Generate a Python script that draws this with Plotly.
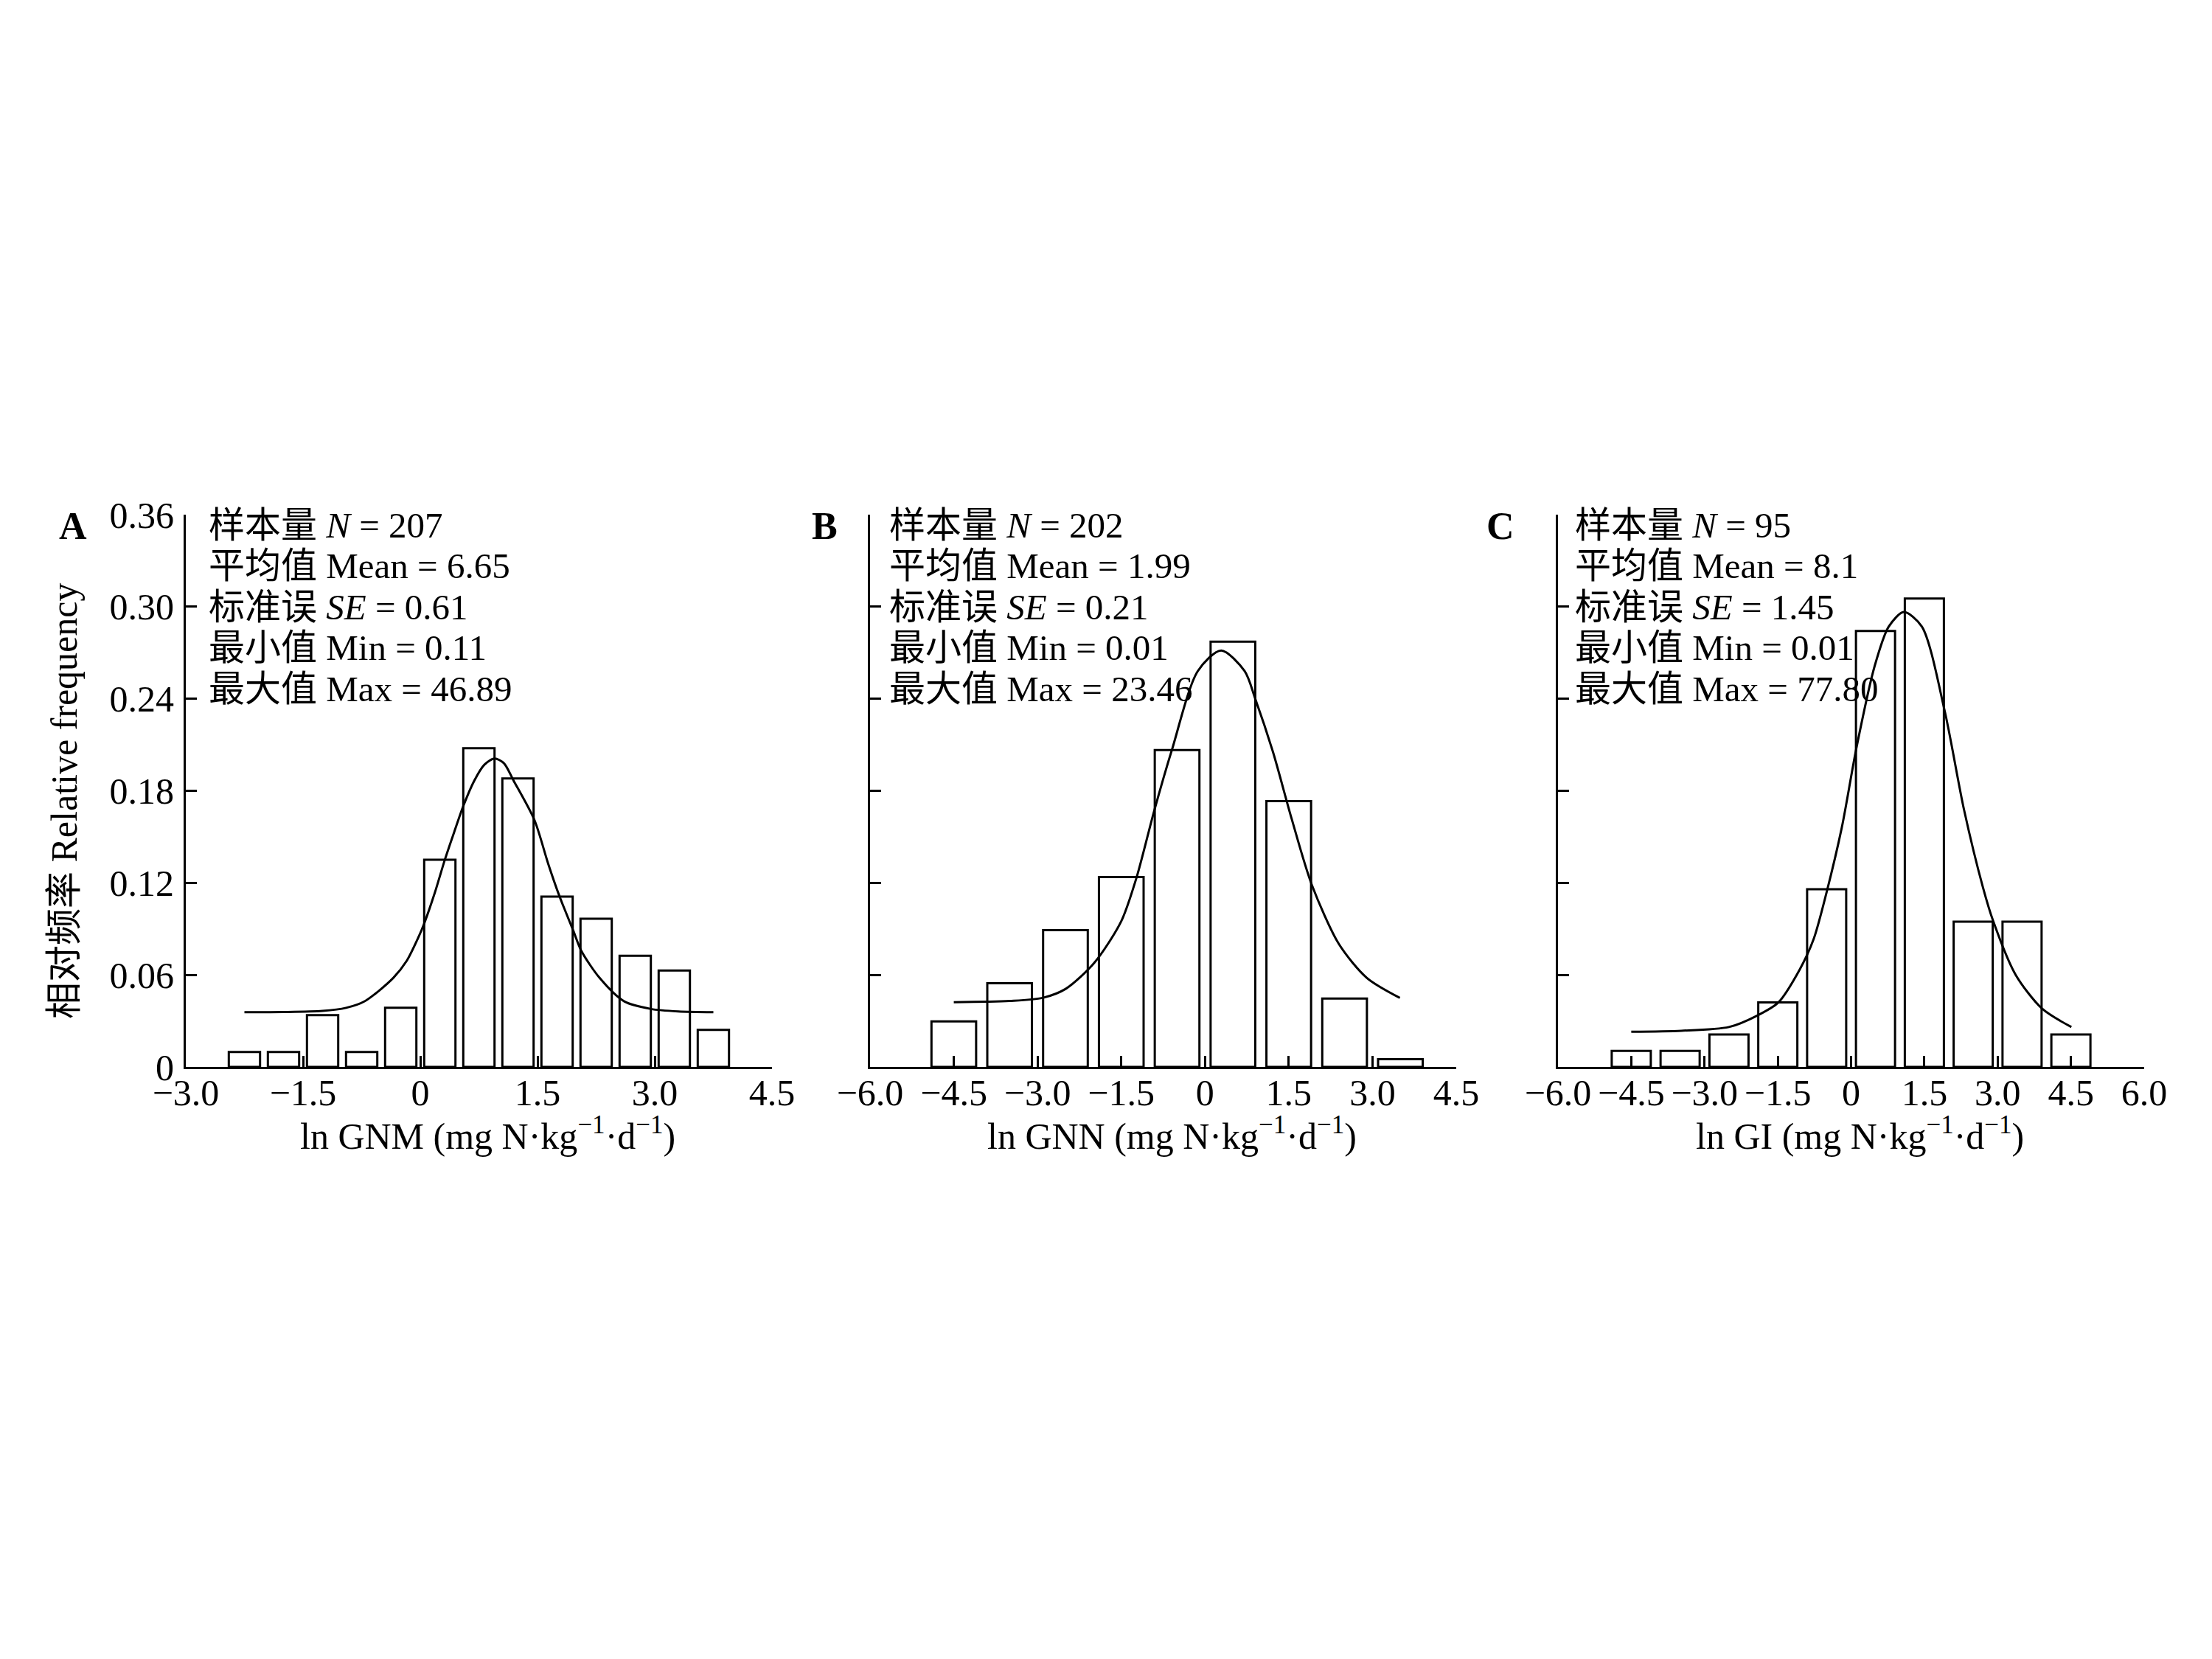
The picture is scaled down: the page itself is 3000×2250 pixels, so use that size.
import plotly.graph_objects as go

W, H = 3000, 2250

# ---------------- data ----------------
# Panel A: ln GNM
a_centers = [-2.25, -1.75, -1.25, -0.75, -0.25, 0.25, 0.75, 1.25, 1.75, 2.25, 2.75, 3.25, 3.75]
a_freq = [0.0097, 0.0097, 0.0338, 0.0097, 0.0386, 0.135, 0.2077, 0.188, 0.111, 0.0966, 0.0725, 0.0628, 0.0242]
a_curve_x = [-2.25, -1.75, -1.25, -0.95, -0.708, -0.346, -0.173, -0.031, 0.054, 0.189, 0.314, 0.44, 0.55, 0.69,
             0.82, 0.95, 1.07, 1.195, 1.46, 1.635, 1.777, 1.96, 2.06, 2.295, 2.61, 2.95, 3.3, 3.75]
a_curve_y = [0.0357, 0.0358, 0.0365, 0.0385, 0.0429, 0.058, 0.0692, 0.0837, 0.094, 0.114, 0.135, 0.154, 0.170, 0.1865,
             0.197, 0.201, 0.198, 0.1865, 0.161, 0.1327, 0.1118, 0.0885, 0.0757, 0.058, 0.0427, 0.0378, 0.0362, 0.0357]

# Panel B: ln GNN
b_centers = [-4.5, -3.5, -2.5, -1.5, -0.5, 0.5, 1.5, 2.5, 3.5]
b_freq = [0.0297, 0.0545, 0.0891, 0.1238, 0.2065, 0.2772, 0.1733, 0.0446, 0.0050]
b_curve_x = [-4.5, -3.5, -2.91, -2.49, -1.98, -1.5, -1.23, -0.91, -0.59, -0.13, 0.29, 0.71, 0.90, 1.22, 1.55, 1.91, 2.40, 2.90, 3.49]
b_curve_y = [0.0422, 0.043, 0.045, 0.051, 0.068, 0.095, 0.123, 0.167, 0.207, 0.258, 0.2715, 0.258, 0.240, 0.205, 0.162, 0.119, 0.080, 0.058, 0.045]

# Panel C: ln GI
c_centers = [-4.5, -3.5, -2.5, -1.5, -0.5, 0.5, 1.5, 2.5, 3.5, 4.5]
c_freq = [0.0105, 0.0105, 0.0211, 0.0421, 0.1158, 0.2842, 0.3053, 0.0947, 0.0947, 0.0211]
c_curve_x = [-4.50, -3.47, -2.50, -1.92, -1.49, -1.06, -0.77, -0.50, -0.19, 0.11, 0.48, 0.77, 1.08, 1.45, 1.91, 2.31, 2.70, 2.91, 3.37, 3.91, 4.51]
c_curve_y = [0.023, 0.0236, 0.026, 0.0335, 0.042, 0.063, 0.083, 0.114, 0.156, 0.208, 0.261, 0.287, 0.2965, 0.287, 0.233, 0.168, 0.117, 0.095, 0.060, 0.038, 0.026]

# tick labels
a_xticks = [-3.0, -1.5, 0, 1.5, 3.0, 4.5]
a_xticktext = ["\u22123.0", "\u22121.5", "0", "1.5", "3.0", "4.5"]
b_xticks = [-6.0, -4.5, -3.0, -1.5, 0, 1.5, 3.0, 4.5]
b_xticktext = ["\u22126.0", "\u22124.5", "\u22123.0", "\u22121.5", "0", "1.5", "3.0", "4.5"]
c_xticks = [-6.0, -4.5, -3.0, -1.5, 0, 1.5, 3.0, 4.5, 6.0]
c_xticktext = ["\u22126.0", "\u22124.5", "\u22123.0", "\u22121.5", "0", "1.5", "3.0", "4.5", "6.0"]
yticks = [0, 0.06, 0.12, 0.18, 0.24, 0.30, 0.36]
yticktext = ["0", "0.06", "0.12", "0.18", "0.24", "0.30", "0.36"]

panel_letters = ["A", "B", "C"]
x_titles = [
    "ln GNM (mg N·kg<sup>\u22121</sup>·d<sup>\u22121</sup>)",
    "ln GNN (mg N·kg<sup>\u22121</sup>·d<sup>\u22121</sup>)",
    "ln GI (mg N·kg<sup>\u22121</sup>·d<sup>\u22121</sup>)",
]
stats = [
    ["样本量 <i>N</i> = 207", "平均值 Mean = 6.65", "标准误 <i>SE</i> = 0.61", "最小值 Min = 0.11", "最大值 Max = 46.89"],
    ["样本量 <i>N</i> = 202", "平均值 Mean = 1.99", "标准误 <i>SE</i> = 0.21", "最小值 Min = 0.01", "最大值 Max = 23.46"],
    ["样本量 <i>N</i> = 95", "平均值 Mean = 8.1", "标准误 <i>SE</i> = 1.45", "最小值 Min = 0.01", "最大值 Max = 77.80"],
]
y_title = "相对频率 Relative frequency"

# ---------------- layout geometry (pixels of the page) ----------------
FONT = "Liberation Serif, Times New Roman, Noto Sans CJK SC, serif"
OFF = 8  # page body margin
ax_left = [252, 1180, 2113]
ax_w = 795
ax_top, ax_bot = 698, 1447
bar_widths = [0.4, 0.8, 0.8]
xranges = [[-3.0, 4.5], [-6.0, 4.5], [-6.0, 6.0]]
letter_x = [99, 1118, 2035]
stats_dx = [29, 24, 21]

def px(x):
    return (x - OFF) / W

def py(y):
    return 1 - (y - OFF) / H

fig = go.Figure()
data_sets = [
    (a_centers, a_freq, a_curve_x, a_curve_y),
    (b_centers, b_freq, b_curve_x, b_curve_y),
    (c_centers, c_freq, c_curve_x, c_curve_y),
]
xt = [(a_xticks, a_xticktext), (b_xticks, b_xticktext), (c_xticks, c_xticktext)]

annotations = []
for i, (cx, fq, kx, ky) in enumerate(data_sets):
    xa = "x" if i == 0 else f"x{i+1}"
    ya = "y" if i == 0 else f"y{i+1}"
    fig.add_trace(go.Bar(
        x=cx, y=fq, width=bar_widths[i], xaxis=xa, yaxis=ya,
        marker=dict(color="white", line=dict(color="black", width=3)),
        showlegend=False,
    ))
    fig.add_trace(go.Scatter(
        x=kx, y=ky, mode="lines", xaxis=xa, yaxis=ya,
        line=dict(color="black", width=3, shape="spline", smoothing=0.8),
        showlegend=False,
    ))
    axis_common = dict(
        showgrid=False, zeroline=False, showline=True, linecolor="black", linewidth=3,
        ticks="inside", ticklen=15, tickwidth=3, tickcolor="black", automargin=False,
        tickfont=dict(family=FONT, size=50, color="black"),
    )
    xkey = "xaxis" if i == 0 else f"xaxis{i+1}"
    ykey = "yaxis" if i == 0 else f"yaxis{i+1}"
    fig.update_layout(**{
        xkey: dict(
            domain=[px(ax_left[i]), px(ax_left[i] + ax_w)],
            range=xranges[i], anchor=ya,
            tickvals=xt[i][0], ticktext=xt[i][1], ticklabelstandoff=-11,
            **axis_common,
        ),
        ykey: dict(
            domain=[py(ax_bot), py(ax_top)],
            range=[0, 0.36], anchor=xa,
            tickvals=yticks, ticktext=yticktext, showticklabels=(i == 0), ticklabelstandoff=3,
            **axis_common,
        ),
    })
    annotations.append(dict(
        x=px(letter_x[i]), y=py(713), xref="paper", yref="paper",
        text="<b>%s</b>" % panel_letters[i], showarrow=False,
        font=dict(family=FONT, size=52, color="black"), xanchor="center", yanchor="middle",
    ))
    for j, line in enumerate(stats[i]):
        annotations.append(dict(
            x=px(ax_left[i] + stats_dx[i]), y=py(712 + 55.5 * j), xref="paper", yref="paper",
            text=line, showarrow=False, xanchor="left", yanchor="middle",
            font=dict(family=FONT, size=49, color="black"),
        ))
    annotations.append(dict(
        x=px(ax_left[i] + ax_w / 2 + 12), y=py(1537), xref="paper", yref="paper",
        text=x_titles[i], showarrow=False, xanchor="center", yanchor="middle",
        font=dict(family=FONT, size=50, color="black"),
    ))

annotations.append(dict(
    x=px(87), y=py(1087), xref="paper", yref="paper", text=y_title, textangle=-90,
    showarrow=False, xanchor="center", yanchor="middle",
    font=dict(family=FONT, size=50, color="black"),
))

fig.update_layout(
    template="none",
    width=W, height=H, margin=dict(l=0, r=0, t=0, b=0, pad=0, autoexpand=False),
    paper_bgcolor="white", plot_bgcolor="white",
    annotations=annotations, barmode="overlay", showlegend=False,
    font=dict(family=FONT, color="black"),
)

fig.write_html("out.html")
